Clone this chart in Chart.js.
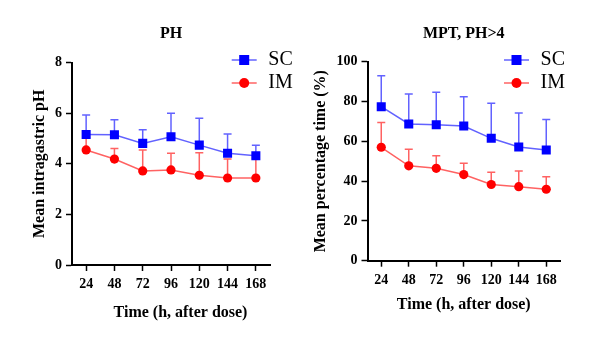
<!DOCTYPE html>
<html>
<head>
<meta charset="utf-8">
<script src="https://cdn.jsdelivr.net/npm/chart.js@4.4.1/dist/chart.umd.min.js"></script>
<style>
  html, body { margin: 0; padding: 0; background: #ffffff; }
  #wrap { position: relative; width: 600px; height: 344px; }
  canvas { position: absolute; top: 0; }
  #phChart { left: 0; }
  #mptChart { left: 300px; }
</style>
</head>
<body>
<div id="wrap">
  <canvas id="phChart" width="300" height="344"></canvas>
  <canvas id="mptChart" width="300" height="344"></canvas>
</div>
<script>
// Sampling times (h after dose)
const hours = ['24', '48', '72', '96', '120', '144', '168'];

// Mean intragastric pH, with upper SD
const phSC   = [5.16, 5.15, 4.81, 5.07, 4.74, 4.42, 4.32];
const phSCsd = [0.77, 0.59, 0.54, 0.93, 1.06, 0.76, 0.42];
const phIM   = [4.55, 4.19, 3.72, 3.76, 3.55, 3.44, 3.44];
const phIMsd = [0.50, 0.42, 0.83, 0.66, 0.89, 0.75, 0.78];

// Mean percentage time with pH > 4, with upper SD
const mptSC   = [77.4, 68.7, 68.3, 67.7, 61.5, 57.1, 55.6];
const mptSCsd = [15.5, 15.1, 16.3, 14.7, 17.6, 17.1, 15.4];
const mptIM   = [57.0, 47.7, 46.4, 43.3, 38.3, 37.2, 35.9];
const mptIMsd = [12.5, 8.3, 6.3, 5.7, 6.1, 7.9, 6.3];

// Y tick values
const phTicks  = [0, 2, 4, 6, 8];
const mptTicks = [0, 20, 40, 60, 80, 100];

const SERIF = "'Liberation Serif', 'Times New Roman', serif";
const SC_LINE = 'rgba(70, 70, 255, 0.85)';
const IM_LINE = 'rgba(255, 70, 70, 0.85)';

// One-sided (upper) SD whiskers with a cap, drawn beneath the lines and markers
const upperErrorBars = {
  id: 'upperErrorBars',
  beforeDatasetsDraw(chart, args, opts) {
    const ctx = chart.ctx;
    const yScale = chart.scales.y;
    for (let di = chart.data.datasets.length - 1; di >= 0; di--) {
      const ds = chart.data.datasets[di];
      if (!ds.errorPlus) continue;
      const meta = chart.getDatasetMeta(di);
      ctx.save();
      ctx.strokeStyle = ds.borderColor;
      ctx.lineWidth = opts.width;
      meta.data.forEach((pt, i) => {
        const top = yScale.getPixelForValue(ds.data[i] + ds.errorPlus[i]);
        ctx.beginPath();
        ctx.moveTo(pt.x, pt.y);
        ctx.lineTo(pt.x, top);
        ctx.moveTo(pt.x - opts.cap / 2, top);
        ctx.lineTo(pt.x + opts.cap / 2, top);
        ctx.stroke();
      });
      ctx.restore();
    }
  }
};

// Legend rows: line sample with marker, then the series name
const sideLegend = {
  id: 'sideLegend',
  afterDraw(chart, args, o) {
    const ctx = chart.ctx;
    chart.data.datasets.forEach((ds, i) => {
      const y = o.y + i * o.rowGap;
      const mx = o.x + o.lineLen / 2;
      ctx.save();
      ctx.strokeStyle = ds.borderColor;
      ctx.lineWidth = ds.borderWidth;
      ctx.beginPath();
      ctx.moveTo(o.x, y);
      ctx.lineTo(o.x + o.lineLen, y);
      ctx.stroke();
      ctx.fillStyle = ds.pointBackgroundColor;
      if (ds.pointStyle === 'rect') {
        ctx.fillRect(mx - o.square / 2, y - o.square / 2, o.square, o.square);
      } else {
        ctx.beginPath();
        ctx.arc(mx, y, o.dot, 0, Math.PI * 2);
        ctx.fill();
      }
      ctx.fillStyle = '#000000';
      ctx.font = '20px ' + SERIF;
      ctx.textAlign = 'left';
      ctx.textBaseline = 'middle';
      ctx.fillText(ds.label, o.x + o.lineLen + o.gap, y);
      ctx.restore();
    });
  }
};

// X-axis caption under the tick labels
const xCaption = {
  id: 'xCaption',
  afterDraw(chart, args, o) {
    const ctx = chart.ctx;
    const a = chart.chartArea;
    ctx.save();
    ctx.fillStyle = '#000000';
    ctx.font = 'bold 16px ' + SERIF;
    ctx.textAlign = 'center';
    ctx.textBaseline = 'middle';
    ctx.fillText(o.text, (a.left + a.right) / 2 + o.dx, o.y);
    ctx.restore();
  }
};

function buildChart(id, spec) {
  return new Chart(document.getElementById(id), {
    type: 'line',
    data: {
      labels: hours,
      datasets: [
        {
          label: 'SC',
          data: spec.sc,
          errorPlus: spec.scErr,
          borderColor: SC_LINE,
          borderWidth: 1.5,
          pointStyle: 'rect',
          pointRadius: 6.4,
          pointHoverRadius: 6.4,
          pointBackgroundColor: '#0000ff',
          pointBorderWidth: 0,
          tension: 0
        },
        {
          label: 'IM',
          data: spec.im,
          errorPlus: spec.imErr,
          borderColor: IM_LINE,
          borderWidth: 1.5,
          pointStyle: 'circle',
          pointRadius: 4.6,
          pointHoverRadius: 4.6,
          pointBackgroundColor: '#ff0000',
          pointBorderWidth: 0,
          tension: 0
        }
      ]
    },
    options: {
      responsive: false,
      animation: false,
      events: [],
      layout: { padding: { left: 0, right: spec.padRight, top: 0, bottom: 0 } },
      scales: {
        x: {
          type: 'category',
          offset: true,
          afterFit(scale) { scale.height = spec.xHeight; },
          grid: {
            offset: false,
            drawOnChartArea: false,
            drawTicks: true,
            tickLength: 6,
            tickWidth: 1.5,
            tickColor: '#000000'
          },
          border: { display: true, color: '#000000', width: 2 },
          ticks: {
            color: '#000000',
            padding: spec.xTickPad,
            maxRotation: 0,
            font: { family: SERIF, size: 14, weight: 'bold' }
          }
        },
        y: {
          min: spec.ticks[0],
          max: spec.ticks[spec.ticks.length - 1],
          afterFit(scale) { scale.width = spec.yWidth; },
          grid: {
            drawOnChartArea: false,
            drawTicks: true,
            tickLength: 6,
            tickWidth: 1.5,
            tickColor: '#000000'
          },
          border: { display: true, color: '#000000', width: 2 },
          ticks: {
            stepSize: spec.ticks[1] - spec.ticks[0],
            color: '#000000',
            padding: 4,
            font: { family: SERIF, size: 14, weight: 'bold' }
          },
          title: {
            display: true,
            text: spec.yTitle,
            color: '#000000',
            padding: { top: spec.yTitlePad, bottom: 0 },
            font: { family: SERIF, size: 16, weight: 'bold' }
          }
        }
      },
      plugins: {
        legend: { display: false },
        tooltip: { enabled: false },
        title: {
          display: true,
          text: spec.title,
          fullSize: false,
          color: '#000000',
          padding: { top: 24.4, bottom: spec.titlePadBottom },
          font: { family: SERIF, size: 16, weight: 'bold' }
        },
        upperErrorBars: { width: 1.5, cap: 8 },
        sideLegend: { x: spec.legendX, y: 60, rowGap: 23, lineLen: 25, gap: 11.6, square: 10, dot: 5 },
        xCaption: { text: 'Time (h, after dose)', dx: spec.captionDx, y: spec.captionY }
      }
    },
    plugins: [upperErrorBars, sideLegend, xCaption]
  });
}

buildChart('phChart', {
  sc: phSC, scErr: phSCsd, im: phIM, imErr: phIMsd,
  ticks: phTicks,
  title: 'PH',
  yTitle: 'Mean intragastric pH',
  yWidth: 72, yTitlePad: 30.4,
  padRight: 30, xHeight: 79, xTickPad: 5,
  titlePadBottom: 19.1,
  legendX: 231.7,
  captionDx: 9.5, captionY: 313
});

buildChart('mptChart', {
  sc: mptSC, scErr: mptSCsd, im: mptIM, imErr: mptIMsd,
  ticks: mptTicks,
  title: 'MPT, PH>4',
  yTitle: 'Mean percentage time (%)',
  yWidth: 67.5, yTitlePad: 11.1,
  padRight: 40, xHeight: 83.3, xTickPad: 5,
  titlePadBottom: 18.1,
  legendX: 204,
  captionDx: 0, captionY: 305
});
</script>
</body>
</html>
